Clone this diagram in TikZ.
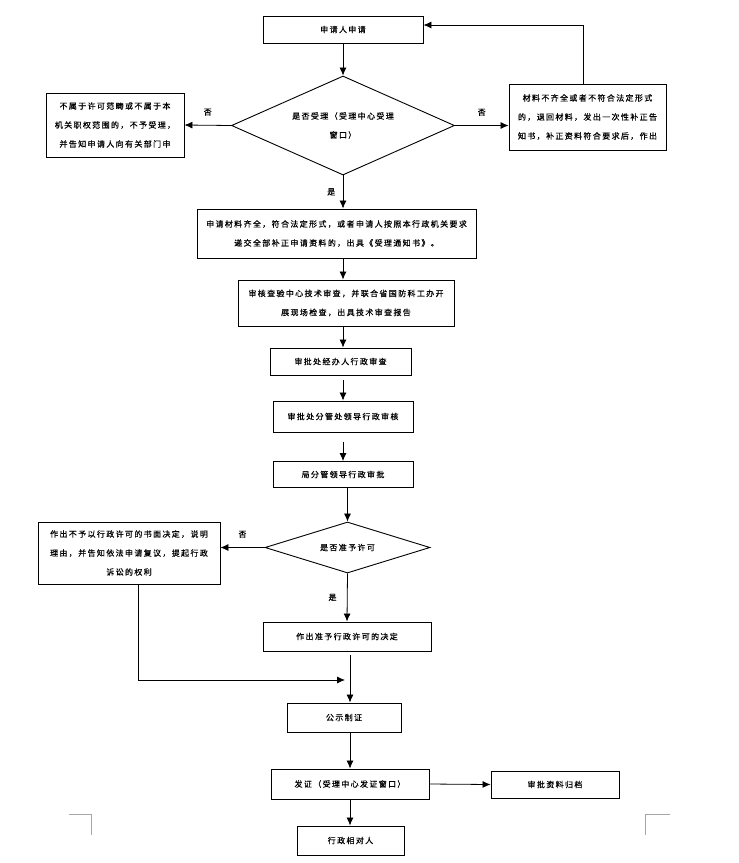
\documentclass[tikz,border=0pt]{standalone}
\usepackage{fontspec}
\newfontfamily\cjk[LetterSpace=17,FakeBold=0.6]{Noto Sans CJK SC}
\usetikzlibrary{
  arrows.meta,
  positioning,
  shapes.geometric,
}
\tikzset{
  >={Latex[width=7pt,length=8pt]},
}

\begin{document}
\begin{tikzpicture}[
    x=1pt, y=-1pt,
    every node/.style={
      align=center,
      font=\cjk\fontsize{8}{19}\selectfont,
    },
    box/.style={draw,
      line width=0.9pt,
      inner sep=2pt,
    },
    check/.style={draw,
      diamond,
      line width=0.9pt,
      inner sep=0pt,
    },
    flow/.style={->,
      line width=0.8pt,
    },
    cornermark/.style={
      draw=black!35,
      line width=0.8pt,
    },
  ]
  \useasboundingbox (0,0) rectangle (739,863);

  \node[box, minimum width=160pt, minimum height=27pt] (apply) at (343,29.5) {申请人申请};
  \node[check, aspect=2.25, minimum width=223pt, minimum height=99pt] (accept) at (343,125.5) {是否受理（受理中心受理\\窗口）};
  \node[box, minimum width=138pt, minimum height=64pt] (refuse) at (115,125) {不属于许可范畴或不属于本\\机关职权范围的，不予受理，\\并告知申请人向有关部门申};
  \node[box, minimum width=157pt, minimum height=66pt] (amend) at (587.5,117) {材料不齐全或者不符合法定形式\\的，退回材料，发出一次性补正告\\知书，补正资料符合要求后，作出};
  \node[box, minimum width=279pt, minimum height=49pt] (accepted) at (336.5,233.5) {申请材料齐全，符合法定形式，或者申请人按照本行政机关要求\\递交全部补正申请资料的，出具《受理通知书》。};
  \node[box, minimum width=216pt, minimum height=46pt] (techrev) at (346,303) {审核查验中心技术审查，并联合省国防科工办开\\展现场检查，出具技术审查报告};
  \node[box, minimum width=141pt, minimum height=27pt] (clerk) at (340.5,361.5) {审批处经办人行政审查};
  \node[box, minimum width=140pt, minimum height=31pt] (chief) at (343,416.5) {审批处分管处领导行政审核};
  \node[box, minimum width=140pt, minimum height=26pt] (bureau) at (343,474.5) {局分管领导行政审批};
  \node[check, aspect=3.2, minimum width=165pt, minimum height=51pt] (permit) at (347.5,547.5) {是否准予许可};
  \node[box, minimum width=182pt, minimum height=62pt] (deny) at (129,553) {作出不予以行政许可的书面决定，说明\\理由，并告知依法申请复议，提起行政\\诉讼的权利};
  \node[box, minimum width=168pt, minimum height=29pt] (grant) at (347,636.5) {作出准予行政许可的决定};
  \node[box, minimum width=114pt, minimum height=29pt] (publish) at (344,717.5) {公示制证};
  \node[box, minimum width=158pt, minimum height=30pt] (issue) at (350,784) {发证（受理中心发证窗口）};
  \node[box, minimum width=128pt, minimum height=27pt] (archive) at (555,784.5) {审批资料归档};
  \node[box, minimum width=107pt, minimum height=29pt] (holder) at (350.5,840.5) {行政相对人};

  \coordinate (merge) at (345,680);

  \path[flow]
  (apply) edge (accept)
  (accept.west) edge node[above=6pt] (no-refuse) {否} (refuse.east)
  (accept.east) edge node[above=6pt] (no-amend) {否} (accept.east -| amend.west)
  (accept.south) edge node[left=4pt] (yes-accept) {是} (accept.south |- accepted.north)

  (accepted.south -| apply) edge (techrev.north -| apply)
  (techrev.south -| apply) edge (clerk.north -| apply)
  (clerk.south -| apply) edge[shorten <=5pt] (chief.north -| apply)
  (chief.south -| apply) edge[shorten <=10pt] (bureau.north -| apply)
  (bureau.south -| permit) edge (permit.north)

  (permit.west) edge node[above=6pt] (no-permit) {否} (permit.west -| deny.east)
  (permit.south) edge node[left=7pt] (yes-permit) {是} (grant.north)
  (grant.south -| issue) edge[shorten <=4pt] (publish.north -| issue)
  (publish.south -| issue) edge (issue.north)
  (issue.south) edge (issue.south |- holder.north)
  (issue.east) edge (archive.west)
  ;
  \draw[flow] ([xshift=-4.5pt]amend.north) |- ([yshift=4.5pt]apply.east);
  \draw[flow] ([xshift=9pt]deny.south) |- (merge);

  % page corner marks
  \draw[cornermark] (69,814) -- (91,814) -- (91,835);
  \draw[cornermark] (670,814) -- (645,814) -- (645,835);
\end{tikzpicture}
\end{document}
